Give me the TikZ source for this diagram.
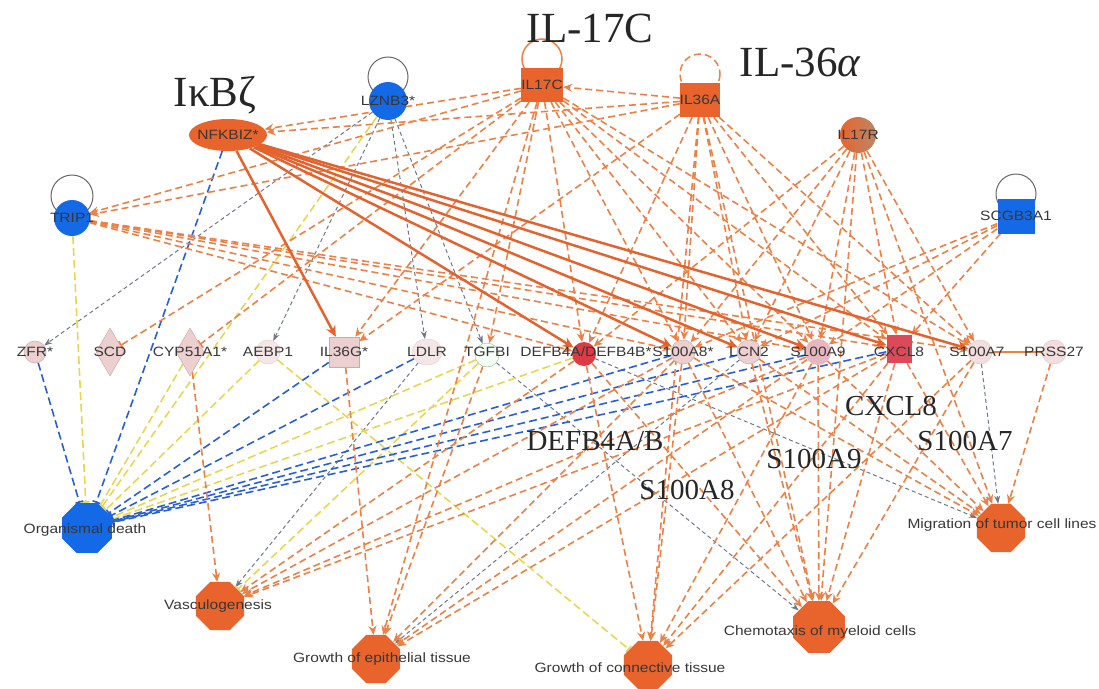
\documentclass[tikz,border=0pt]{standalone}
\usepackage{fontspec}
\newfontfamily\labfont[FakeStretch=1.15]{Liberation Sans}
\newfontfamily\bigfont{Liberation Serif}
\usetikzlibrary{shapes.geometric,arrows.meta}
\pgfdeclarelayer{bg}
\pgfsetlayers{bg,main}
\definecolor{orN}{RGB}{232,100,44}
\definecolor{blN}{RGB}{20,105,230}
\definecolor{paleN}{RGB}{236,208,208}
\definecolor{paleD}{RGB}{205,170,170}
\definecolor{redN}{RGB}{222,58,68}
\definecolor{orE}{RGB}{236,128,70}
\definecolor{orS}{RGB}{228,98,45}
\definecolor{blE}{RGB}{40,95,215}
\definecolor{yeE}{RGB}{232,214,80}
\definecolor{grE}{RGB}{110,120,135}
\definecolor{txt}{RGB}{55,55,55}
\definecolor{brN}{RGB}{185,135,105}
\begin{document}
\begin{tikzpicture}[x=1pt,y=-1pt,
  lab/.style={font=\labfont\fontsize{13.5}{14}\selectfont, text=txt, inner sep=0pt},
  big/.style={font=\bigfont\fontsize{43}{46}\selectfont, text=black!85, inner sep=0pt},
  mid/.style={font=\bigfont\fontsize{29}{32}\selectfont, text=black!85, inner sep=0pt},
  oe/.style={draw=orE, line width=1.6pt, dash pattern=on 7pt off 4pt, -{Stealth[length=9pt,width=8pt]}},
  ob/.style={draw=orE, line width=1.6pt, dash pattern=on 7pt off 4pt, -{Bar[width=9pt]}},
  se/.style={draw=orS, line width=2.5pt, -{Stealth[length=11pt,width=10pt]}},
  be/.style={draw=blE, line width=1.6pt, dash pattern=on 8pt off 4pt, -{Bar[width=8pt]}},
  ye/.style={draw=yeE, line width=1.6pt, dash pattern=on 8pt off 4pt, -{Bar[width=8pt]}},
  ge/.style={draw=grE, line width=1pt, dash pattern=on 4pt off 3pt, -{Stealth[length=8pt,width=6pt]}},
  loopg/.style={draw=black!60, line width=1pt},
  pale/.style={fill=paleN, draw=paleD, line width=0.5pt, inner sep=0pt},
  oct/.style={regular polygon, regular polygon sides=8, inner sep=0pt, minimum size=#1},
]
\useasboundingbox (0,0) rectangle (1099,688);

% ---------- top nodes ----------
\node[circle,fill=blN,minimum size=36pt,inner sep=0pt] (TRIP1) at (72,218) {};
\node[circle,fill=blN,minimum size=38pt,inner sep=0pt] (LZNB3) at (388,101) {};
\node[ellipse,fill=orN,minimum width=78pt,minimum height=32pt,inner sep=0pt] (NFKBIZ) at (228,135) {};
\node[rectangle,fill=orN,minimum width=42pt,minimum height=34pt,inner sep=0pt] (IL17C) at (542,85) {};
\node[rectangle,fill=orN,minimum width=40pt,minimum height=34pt,inner sep=0pt] (IL36A) at (700,100) {};
\node[circle,left color=orN,right color=brN,minimum size=36pt,inner sep=0pt] (IL17R) at (858,135) {};
\node[rectangle,fill=blN,minimum width=37pt,minimum height=35pt,inner sep=0pt] (SCGB) at (1016,216) {};

% ---------- middle row ----------
\node[circle,pale,minimum size=22pt] (ZFR) at (35,352) {};
\node[diamond,pale,minimum width=28pt,minimum height=48pt] (SCD) at (110,352) {};
\node[diamond,pale,minimum width=28pt,minimum height=48pt] (CYP) at (190,352) {};
\node[circle,fill=paleN!50,draw=paleD!60,inner sep=0pt,minimum size=24pt] (AEBP1) at (268,352) {};
\node[rectangle,pale,minimum size=30pt] (IL36G) at (344,352) {};
\node[ellipse,fill=paleN!50,draw=paleD!60,inner sep=0pt,minimum width=30pt,minimum height=26pt] (LDLR) at (427,352) {};
\node[circle,fill=green!4,draw={rgb,255:red,150;green,185;blue,140},inner sep=0pt,minimum size=24pt] (TGFBI) at (487,355) {};
\node[circle,fill=redN,inner sep=0pt,minimum size=24pt] (DEFB) at (584,354) {};
\node[circle,pale,minimum size=24pt] (S100A8) at (683,352) {};
\node[circle,pale,minimum size=24pt] (LCN2) at (749,352) {};
\node[circle,fill={rgb,255:red,232;green,182;blue,190},inner sep=0pt,minimum size=26pt] (S100A9) at (818,352) {};
\node[rectangle,fill={rgb,255:red,220;green,74;blue,90},inner sep=0pt,minimum width=25pt,minimum height=28pt] (CXCL8) at (899,349) {};
\node[circle,fill=paleN!70,draw=paleD!70,inner sep=0pt,minimum size=24pt] (S100A7) at (980,352) {};
\node[circle,fill=paleN!70,draw=paleD!70,inner sep=0pt,minimum size=24pt] (PRSS27) at (1054,352) {};

% ---------- functions ----------
\node[oct=54pt,fill=blN] (OD) at (87,528) {};
\node[oct=52pt,fill=orN] (VAS) at (220,606) {};
\node[oct=52pt,fill=orN] (GE) at (376,659) {};
\node[oct=52pt,fill=orN] (GC) at (648,665) {};
\node[oct=56pt,fill=orN] (CH) at (819,627) {};
\node[oct=52pt,fill=orN] (MIG) at (1001,528) {};

% ---------- edges ----------
\begin{pgfonlayer}{bg}
% self loops
\draw[loopg] (TRIP1) ++(0,-22) circle[radius=21];
\draw[loopg] (LZNB3) ++(0,-24) circle[radius=20];
\draw[loopg] (SCGB) ++(0,-22) circle[radius=20];
\draw[draw=orE,line width=1.5pt] (IL17C) ++(0,-26) circle[radius=20];
\draw[draw=orE,line width=1.5pt,dash pattern=on 7pt off 4pt] (IL36A) ++(0,-26) circle[radius=20];

% gray
\foreach \t in {ZFR,AEBP1,TGFBI,LDLR} \draw[ge] (LZNB3) -- (\t);
\draw[ge] (LDLR) -- (VAS);
\draw[ge] (LCN2) -- (GE);
\draw[ge] (TGFBI) -- (CH);
\draw[ge] (DEFB) -- (MIG);
\draw[ge] (S100A7) -- (MIG);

% yellow
\foreach \s in {TRIP1,LZNB3,CYP,AEBP1,TGFBI,DEFB} \draw[ye] (\s) -- (OD);
\draw[ye] (AEBP1) -- (GC);
\draw[ye] (TGFBI) -- (VAS);

% blue
\foreach \s in {ZFR,NFKBIZ,IL36G,LDLR,S100A8,LCN2,S100A9,CXCL8} \draw[be] (\s) -- (OD);

% orange dashed from regulators
\foreach \t in {NFKBIZ,TRIP1,IL36G,TGFBI,DEFB,S100A8,LCN2,S100A9,CXCL8,S100A7,GE} \draw[oe] (IL17C) -- (\t);
\draw[ob] (IL17C) -- (SCD);
\draw[ob] (IL17C) -- (CYP);
\foreach \t in {IL17C,NFKBIZ,TRIP1,IL36G,DEFB,S100A8,LCN2,S100A9,CXCL8,S100A7,CH,GC} \draw[oe] (IL36A) -- (\t);
\foreach \t in {DEFB,S100A8,LCN2,S100A9,CXCL8,S100A7,MIG,CH} \draw[oe] (IL17R) -- (\t);
\foreach \t in {S100A8,LCN2,S100A9,CXCL8} \draw[oe] (SCGB) -- (\t);
\foreach \t in {DEFB,S100A8,S100A9,CXCL8,S100A7} \draw[oe] (TRIP1) -- (\t);

% orange dashed to functions
\draw[oe] (CYP) -- (VAS);
\foreach \s in {DEFB,S100A8,S100A9,CXCL8} \draw[oe] (\s) -- (VAS);
\foreach \s in {IL36G,TGFBI,S100A8,S100A9,CXCL8} \draw[oe] (\s) -- (GE);
\foreach \s in {DEFB,S100A8,S100A9,CXCL8,S100A7} \draw[oe] (\s) -- (GC);
\foreach \s in {DEFB,S100A8,LCN2,S100A9,CXCL8,S100A7} \draw[oe] (\s) -- (CH);
\foreach \s in {S100A8,LCN2,S100A9,CXCL8,PRSS27} \draw[oe] (\s) -- (MIG);
\draw[draw=orE,line width=1.5pt] (S100A7) -- (PRSS27);

% solid from NFKBIZ
\foreach \t in {IL36G,DEFB,S100A8,LCN2,S100A9,CXCL8,S100A7} \draw[se] (NFKBIZ) -- (\t);
\end{pgfonlayer}

% ---------- labels ----------
\node[lab] (TRIP1l) at (TRIP1) {TRIP1};
\node[lab] (LZNB3l) at (LZNB3) {LZNB3*};
\node[lab] (NFKBIZl) at (NFKBIZ) {NFKBIZ*};
\node[lab] (IL17Cl) at (IL17C) {IL17C};
\node[lab] (IL36Al) at (IL36A) {IL36A};
\node[lab] (IL17Rl) at (IL17R) {IL17R};
\node[lab] (SCGBl) at (SCGB) {SCGB3A1};
\node[lab] (ZFRl) at (ZFR) {ZFR*};
\node[lab] (SCDl) at (SCD) {SCD};
\node[lab] (CYPl) at (CYP) {CYP51A1*};
\node[lab] (AEBP1l) at (AEBP1) {AEBP1};
\node[lab] (IL36Gl) at (IL36G) {IL36G*};
\node[lab] (LDLRl) at (LDLR) {LDLR};
\node[lab] (TGFBIl) at (487,352) {TGFBI};
\node[lab] (DEFBl) at (586,352) {DEFB4A/DEFB4B*};
\node[lab] (S100A8l) at (S100A8) {S100A8*};
\node[lab] (LCN2l) at (LCN2) {LCN2};
\node[lab] (S100A9l) at (S100A9) {S100A9};
\node[lab] (CXCL8l) at (899,352) {CXCL8};
\node[lab] (S100A7l) at (977,352) {S100A7};
\node[lab] (PRSS27l) at (PRSS27) {PRSS27};
\node[lab] (ODl) at (85,530) {Organismal death};
\node[lab] (VASl) at (218,606) {Vasculogenesis};
\node[lab] (GEl) at (382,659) {Growth of epithelial tissue};
\node[lab] (GCl) at (630,668) {Growth of connective tissue};
\node[lab] (CHl) at (820,632) {Chemotaxis of myeloid cells};
\node[lab] (MIGl) at (1002,525) {Migration of tumor cell lines};

% ---------- big annotations ----------
\node[big] (kIkBz) at (215,95) {I\char"03BA B\char"03B6};
\node[big] (kIL17C) at (590,28) {IL-17C};
\node[big] (kIL36A) at (800,62) {IL-36{\itshape\char"03B1}};
\node[mid] (kDEFB) at (595,441) {DEFB4A/B};
\node[mid] (kS9) at (814,459) {S100A9};
\node[mid] (kS8) at (687,490) {S100A8};
\node[mid] (kCX) at (891,406) {CXCL8};
\node[mid] (kS7) at (965,441) {S100A7};
\end{tikzpicture}
\end{document}
